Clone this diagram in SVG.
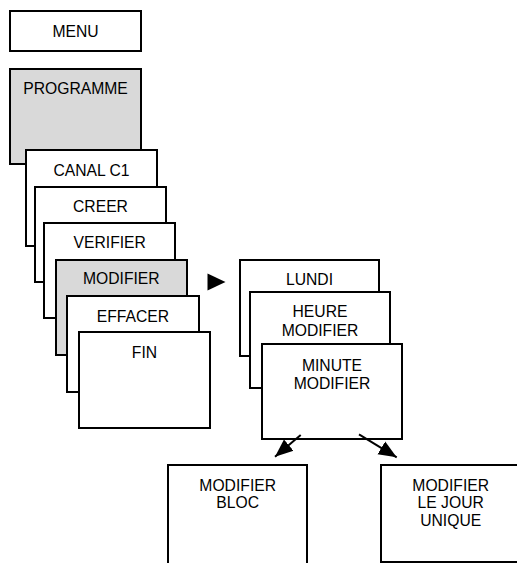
<svg xmlns="http://www.w3.org/2000/svg" width="517" height="563" viewBox="0 0 517 563">
<style>
.b{fill:#fff;stroke:#000;stroke-width:2}
.g{fill:#d9d9d9;stroke:#000;stroke-width:2}
text{font-family:"Liberation Sans",Arial,sans-serif;font-size:15.7px;fill:#000;text-anchor:middle}
.c{stroke:#000;stroke-width:2;fill:none}
</style>
<defs>
<marker id="ah" markerWidth="9" markerHeight="8" refX="9" refY="4" orient="auto" markerUnits="strokeWidth">
<path d="M0,0.3 L9,4 L0,7.7 Z" fill="#000"/>
</marker>
</defs>
<g id="menu"><rect class="b" x="10" y="11" width="131" height="40"/><text x="75.5" y="36.7">MENU</text></g>
<g id="programme"><rect class="g" x="10" y="69" width="131" height="95"/><text x="75.5" y="94.3">PROGRAMME</text></g>
<g id="canal"><rect class="b" x="26" y="150" width="131" height="96"/><text x="91.5" y="175.7">CANAL C1</text></g>
<g id="creer"><rect class="b" x="35" y="187" width="131" height="95"/><text x="100.5" y="212.3">CREER</text></g>
<g id="verifier"><rect class="b" x="44" y="223" width="131" height="95"/><text x="109.7" y="248.3">VERIFIER</text></g>
<g id="modifier"><rect class="g" x="56" y="260" width="131" height="95"/><text x="121.3" y="284.3">MODIFIER</text></g>
<g id="effacer"><rect class="b" x="67" y="296" width="132" height="96"/><text x="133" y="321.7">EFFACER</text></g>
<g id="fin"><rect class="b" x="79" y="332" width="131" height="96"/><text x="144.5" y="357.7">FIN</text></g>
<g id="pointer"><polygon points="207.5,273.5 225.5,282 207.5,290.5" fill="#000"/></g>
<g id="lundi"><rect class="b" x="240" y="260" width="139" height="96"/><text x="309.5" y="285">LUNDI</text></g>
<g id="heure"><rect class="b" x="250" y="292" width="140" height="96"/><text x="320" y="316.7">HEURE</text><text x="320" y="335.7">MODIFIER</text></g>
<g id="minute"><rect class="b" x="262" y="344" width="140" height="95"/><text x="332" y="370.7">MINUTE</text><text x="332" y="389">MODIFIER</text></g>
<g id="bloc"><rect class="b" x="168" y="465" width="139" height="110"/><text x="237.7" y="490.7">MODIFIER</text><text x="237.7" y="508.3">BLOC</text></g>
<g id="jour"><rect class="b" x="381" y="465" width="150" height="97"/><text x="450.7" y="490.7">MODIFIER</text><text x="450.7" y="508.3">LE JOUR</text><text x="450.7" y="526">UNIQUE</text></g>
<g id="connectors">
<line class="c" x1="300.7" y1="435" x2="275" y2="456.7" marker-end="url(#ah)"/>
<line class="c" x1="359" y1="434.3" x2="396.7" y2="457.3" marker-end="url(#ah)"/>
</g>
</svg>
